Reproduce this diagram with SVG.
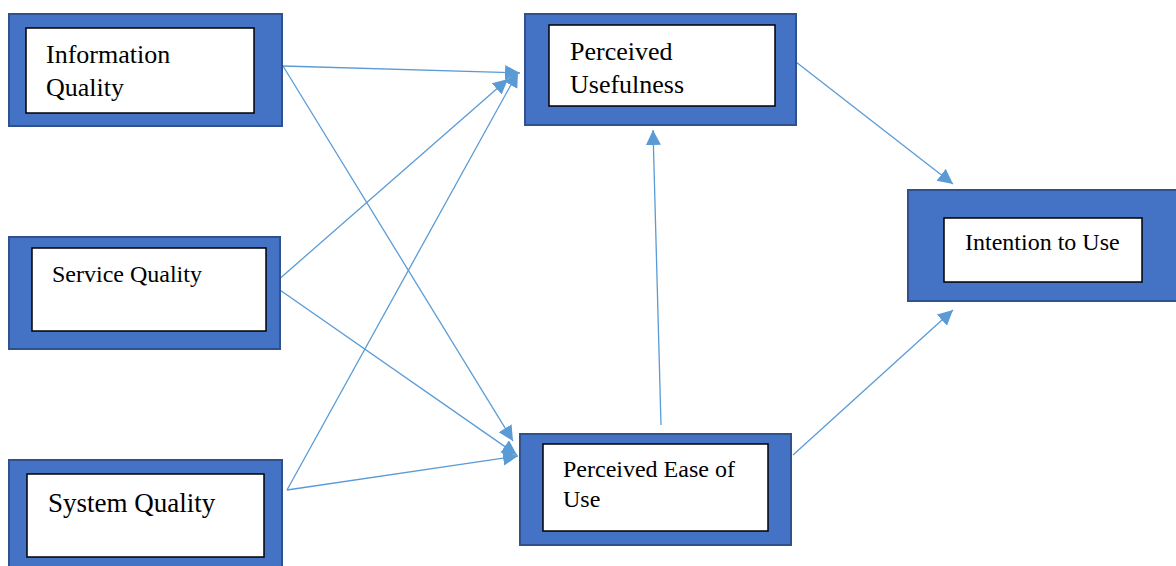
<svg xmlns="http://www.w3.org/2000/svg" width="1176" height="566" viewBox="0 0 1176 566">
<style>
.outer{fill:#4472C4;stroke:#2F528F;stroke-width:2}
.inner{fill:#FFFFFF;stroke:#000000;stroke-width:1.5}
.lbl{font-family:"Liberation Serif","Times New Roman",serif;fill:#000000}
.conn{stroke:#5B9BD5;stroke-width:1.3;fill:none;marker-end:url(#ah)}
</style>
<defs>
<marker id="ah" markerUnits="userSpaceOnUse" markerWidth="16" markerHeight="16" refX="15" refY="7.5" orient="auto">
<path d="M0,0 L15,7.5 L0,15 z" fill="#5B9BD5"/>
</marker>
</defs>
<rect width="1176" height="566" fill="#FFFFFF"/>
<g id="connectors">
<line class="conn" x1="283" y1="66" x2="520" y2="73"/>
<line class="conn" x1="283" y1="66" x2="513" y2="441"/>
<line class="conn" x1="277" y1="281" x2="508" y2="79"/>
<line class="conn" x1="277" y1="288" x2="517" y2="455"/>
<line class="conn" x1="287" y1="490" x2="518" y2="72"/>
<line class="conn" x1="287" y1="490" x2="518" y2="456"/>
<line class="conn" x1="661" y1="425" x2="653" y2="130"/>
<line class="conn" x1="796" y1="62" x2="953" y2="184"/>
<line class="conn" x1="793" y1="455" x2="953" y2="310"/>
</g>
<g id="information-quality">
<rect class="outer" x="9" y="14" width="273" height="112"/>
<rect class="inner" x="26" y="28" width="228" height="85"/>
<text class="lbl" x="46" y="63" font-size="26">Information</text>
<text class="lbl" x="46" y="96" font-size="26">Quality</text>
</g>
<g id="service-quality">
<rect class="outer" x="9" y="237" width="271" height="112"/>
<rect class="inner" x="32" y="248" width="234" height="83"/>
<text class="lbl" x="52" y="282" font-size="24">Service Quality</text>
</g>
<g id="system-quality">
<rect class="outer" x="9" y="460" width="273" height="110"/>
<rect class="inner" x="27" y="474" width="237" height="83"/>
<text class="lbl" x="48" y="512" font-size="27">System Quality</text>
</g>
<g id="perceived-usefulness">
<rect class="outer" x="525" y="14" width="271" height="111"/>
<rect class="inner" x="549" y="25" width="226" height="81"/>
<text class="lbl" x="570" y="60" font-size="26">Perceived</text>
<text class="lbl" x="570" y="93" font-size="26">Usefulness</text>
</g>
<g id="perceived-ease-of-use">
<rect class="outer" x="520" y="434" width="271" height="111"/>
<rect class="inner" x="543" y="444" width="225" height="87"/>
<text class="lbl" x="563" y="477" font-size="24">Perceived Ease of</text>
<text class="lbl" x="563" y="507" font-size="24">Use</text>
</g>
<g id="intention-to-use">
<rect class="outer" x="908" y="190" width="270" height="111"/>
<rect class="inner" x="944" y="218" width="198" height="64"/>
<text class="lbl" x="965" y="250" font-size="24">Intention to Use</text>
</g>
</svg>
